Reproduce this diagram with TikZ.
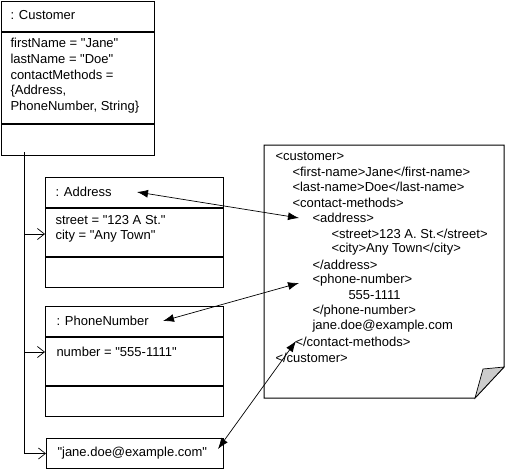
\documentclass[tikz,border=0pt]{standalone}
\usepackage{fontspec}
\setmainfont{Liberation Sans}[Ligatures=TeXOff]
\usetikzlibrary{arrows.meta,positioning}

\begin{document}
\begin{tikzpicture}[x=1pt,y=-1pt,line width=1pt,
  font=\fontsize{13}{15.5}\selectfont,
  part/.style={draw,anchor=north west,inner sep=0pt,minimum width=#1},
  txt/.style={anchor=west,inner sep=0pt},
  link/.style={{Latex[length=11pt,width=8pt]}-{Latex[length=11pt,width=8pt]},line width=0.7pt},
  owns/.style={-{Straight Barb[length=7pt,width=11pt]},line width=0.7pt}]

\useasboundingbox (0,0) rectangle (505,469);

% the customer object
\node[part=153,minimum height=30] (cname) at (0.5,0.5) {};
\node[part=153,minimum height=91] (cattr) at (cname.south west) {};
\node[part=153,minimum height=31] (cops) at (cattr.south west) {};

\node[txt] (ctitle) at (10,15) {: Customer};
\node[txt] (cfirst) at (10,43) {firstName = "Jane"};
\node[txt] (clast) at (10,59) {lastName = "Doe"};
\node[txt] (cmeth) at (10,75) {contactMethods =};
\node[txt] (cmeth2) at (10,91) {\{Address,};
\node[txt] (cmeth3) at (10,107) {PhoneNumber, String\}};

% address
\node[part=178,minimum height=30] (aname) at (45,177) {};
\node[part=178,minimum height=48] (aattr) at (aname.south west) {};
\node[part=178,minimum height=30] (aops) at (aattr.south west) {};

\node[txt] (atitle) at (55,192) {: Address};
\node[txt] (astreet) at (55,220) {street = "123 A St."};
\node[txt] (acity) at (55,236) {city = "Any Town"};

% phone number
\node[part=178,minimum height=30] (pname) at (45,306) {};
\node[part=178,minimum height=48] (pattr) at (pname.south west) {};
\node[part=178,minimum height=30] (pops) at (pattr.south west) {};

\node[txt] (ptitle) at (56,321) {: PhoneNumber};
\node[txt] (pnum) at (56,352) {number = "555-1111"};

% plain string
\node[part=177,minimum height=30] (mail) at (46,438) {};
\node[txt] (mailtxt) at (57,453) {"jane.doe@example.com"};

% xml document
\draw (264,145) -- (504,145) -- (504,367) -- (475,398) -- (264,398) -- cycle;
\filldraw[fill=gray!40,line width=0.7pt] (475,398) -- (483,369) -- (504,367) -- cycle;

\node[txt] (x0) at (275,156) {<customer>};
\node[txt] (x1) at (292,171.5) {<first-name>Jane</first-name>};
\node[txt] (x2) at (292,187) {<last-name>Doe</last-name>};
\node[txt] (x3) at (292,202.5) {<contact-methods>};
\node[txt] (x4) at (312,218) {<address>};
\node[txt] (x5) at (331,233.5) {<street>123 A. St.</street>};
\node[txt] (x6) at (331,249) {<city>Any Town</city>};
\node[txt] (x7) at (312,264.5) {</address>};
\node[txt] (x8) at (312,280) {<phone-number>};
\node[txt] (x9) at (348,295.5) {555-1111};
\node[txt] (x10) at (312,311) {</phone-number>};
\node[txt] (x11) at (312,326.5) {jane.doe@example.com};
\node[txt] (x12) at (295,342) {</contact-methods>};
\node[txt] (x13) at (275,357.5) {</customer>};

% ends of the links
\coordinate (aend) at (137,192);
\coordinate (xaddr) at (299,218);
\coordinate (pend) at (163,321);
\coordinate (xphone) at (299,283);
\coordinate (mend) at (218,449);
\coordinate (xmail) at (296,341);

\draw[link] (aend) -- (xaddr);
\draw[link] (pend) -- (xphone);
\draw[link] (mend) -- (xmail);

% containment
\coordinate (trunk) at (24,152);
\coordinate (j1) at (24,234);
\coordinate (j2) at (24,352);

\draw[line width=0.7pt] (trunk) -- (j2);
\draw[owns] (j1) -- (j1 -| aattr.west);
\draw[owns] (j2) -- (j2 -| pattr.west);
\draw[owns] (j2) |- (mail.west);

\end{tikzpicture}
\end{document}
